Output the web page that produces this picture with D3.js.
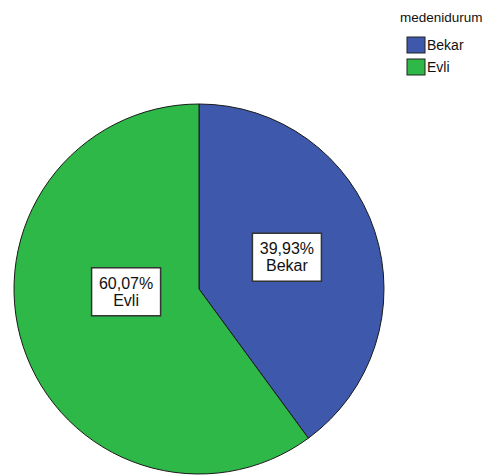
<!DOCTYPE html>
<meta charset="utf-8">
<script src="https://d3js.org/d3.v7.min.js"></script>
<style>
  body { margin: 0; background: #fff; }
  text { font-family: "Liberation Sans", Arial, sans-serif; }
</style>
<div id="chart"></div>
<script>

// data
var categories = ["Bekar", "Evli"];
var percents = [39.93, 60.07];
var colors = ["#3e58ac", "#2eb848"];
var legendTitle = "medenidurum";

var width = 488, height = 475;
var cx = 199, cy = 289, radius = 185;

var svg = d3.select("#chart")
  .append("svg")
    .attr("width", width)
    .attr("height", height);

var pie = d3.pie()
  .sort(null)
  .value(function(d) { return d.value; });

var data = categories.map(function(c, i) {
  return { name: c, value: percents[i], color: colors[i] };
});

var arcs = pie(data);

var arc = d3.arc().innerRadius(0).outerRadius(radius);

var g = svg.append("g")
  .attr("transform", "translate(" + cx + "," + cy + ")");

g.selectAll("path")
  .data(arcs)
  .enter()
  .append("path")
    .attr("d", arc)
    .attr("fill", function(d) { return d.data.color; })
    .attr("stroke", "#1a1a1a")
    .attr("stroke-width", 1);

// label placement (SPSS puts them roughly half way out)
var labelArc = d3.arc().innerRadius(radius * 0.5).outerRadius(radius * 0.5);
var labelShift = [[0, -3], [15, -26]];

var fmt = function(v) { return v.toFixed(2).replace(".", ",") + "%"; };

var labels = g.selectAll("g.lbl")
  .data(arcs)
  .enter()
  .append("g")
    .attr("class", "lbl")
    .attr("transform", function(d, i) {
      var c = labelArc.centroid(d);
      return "translate(" + (c[0] + labelShift[i][0]) + "," + (c[1] + labelShift[i][1]) + ")";
    });

labels.append("rect")
  .attr("x", -34.5)
  .attr("y", -24)
  .attr("width", 69)
  .attr("height", 48)
  .attr("fill", "#fff")
  .attr("stroke", "#333")
  .attr("stroke-width", 1.5);

labels.append("text")
  .attr("text-anchor", "middle")
  .attr("y", -3)
  .attr("font-size", 16)
  .attr("fill", "#111")
  .text(function(d) { return fmt(d.data.value); });

labels.append("text")
  .attr("text-anchor", "middle")
  .attr("y", 14)
  .attr("font-size", 16)
  .attr("fill", "#111")
  .text(function(d) { return d.data.name; });

// legend
var legend = svg.append("g");

legend.append("text")
  .attr("x", 400)
  .attr("y", 22)
  .attr("font-size", 13.5)
  .attr("fill", "#111")
  .text(legendTitle);

var items = legend.selectAll("g.item")
  .data(data)
  .enter()
  .append("g")
    .attr("class", "item")
    .attr("transform", function(d, i) { return "translate(407," + (37 + i * 22) + ")"; });

items.append("rect")
  .attr("width", 18)
  .attr("height", 16)
  .attr("fill", function(d) { return d.color; })
  .attr("stroke", "#222")
  .attr("stroke-width", 1);

items.append("text")
  .attr("x", 20)
  .attr("y", 13)
  .attr("font-size", 14)
  .attr("fill", "#111")
  .text(function(d) { return d.name; });

</script>
